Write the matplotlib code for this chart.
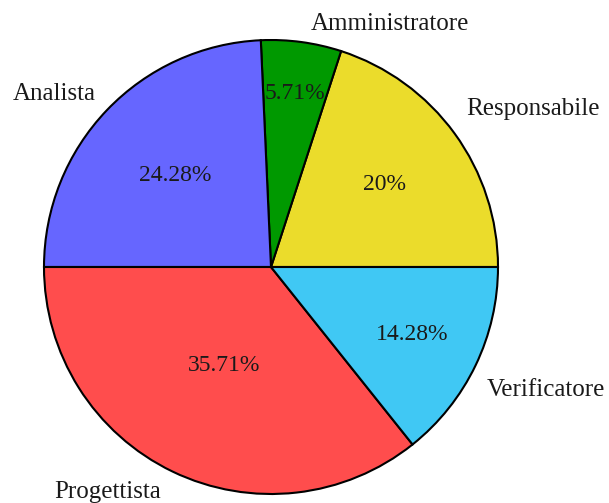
import numpy as np
import matplotlib
matplotlib.use("Agg")
import matplotlib.pyplot as plt

roles = ["Responsabile", "Amministratore", "Analista", "Progettista", "Verificatore"]
shares = [20, 5.71, 24.28, 35.71, 14.28]
colors = ["#ebdc2b", "#009900", "#6666ff", "#ff4d4d", "#40c8f4"]

# where each percentage sits, as a fraction of the radius
pct_radius = [0.62, 0.77, 0.585, 0.48, 0.69]
# small nudges of the outer labels, in pixels (right, down)
label_nudge = [(-7, -11), (6, 4), (5, 0), (-2, 0), (-9, 15)]

plt.rcParams["font.family"] = ["Liberation Serif", "DejaVu Serif"]

fig = plt.figure(figsize=(6.09, 5.03), dpi=100)
# pie occupies a square of 454 px, centred at (271, 267) from top-left
ax = fig.add_axes([44 / 609, 9 / 503, 454 / 609, 454 / 503])

pct_text = iter(f"{v:g}%" for v in shares)
wedges, texts, autotexts = ax.pie(
    shares,
    labels=roles,
    colors=colors,
    startangle=0,
    counterclock=True,
    autopct=lambda p: next(pct_text),
    pctdistance=0.6,
    labeldistance=1.1,
    wedgeprops={"edgecolor": "black", "linewidth": 1.5},
    textprops={"fontsize": 17, "color": "#1a1a1a"},
)

px = 2 / 454  # data units per pixel
for w, t, at, r, (nx, ny) in zip(wedges, texts, autotexts, pct_radius, label_nudge):
    mid = np.deg2rad((w.theta1 + w.theta2) / 2)
    at.set_position((r * np.cos(mid), r * np.sin(mid)))
    x, y = t.get_position()
    t.set_position((x + nx * px, y - ny * px))
    t.set_fontsize(18)

ax.set_xlim(-1, 1)
ax.set_ylim(-1, 1)
ax.set_aspect("equal")

fig.savefig("out.png", dpi=100)
